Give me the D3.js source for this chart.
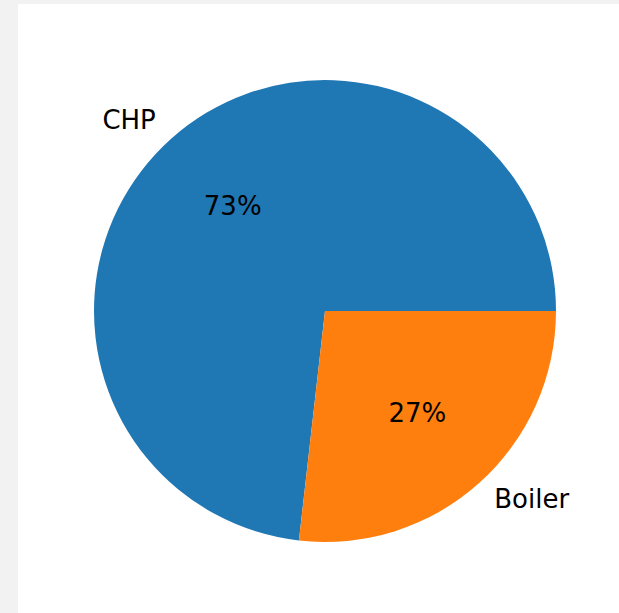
<!DOCTYPE html>
<html>
<head>
<meta charset="utf-8">
<script src="https://cdn.jsdelivr.net/npm/d3@7"></script>
<style>
  html, body { margin: 0; padding: 0; background: #f2f2f2; }
  svg { display: block; }
  text { font-family: "DejaVu Sans", sans-serif; fill: #000; }
</style>
</head>
<body>
<script>
// Data
const categories = ["CHP", "Boiler"];
const shares = [73.2, 26.8];
const colors = ["#1f77b4", "#ff7f0e"];

const W = 619, H = 613;
const cx = 325, cy = 311, R = 231;
const fs = 26;

const svg = d3.select("body").append("svg")
  .attr("width", W).attr("height", H);

// figure area
svg.append("rect").attr("x", 18).attr("y", 4)
  .attr("width", W - 18).attr("height", H - 4).attr("fill", "#fff");

const g = svg.append("g").attr("transform", `translate(${cx},${cy})`);

// matplotlib style: start at 3 o'clock, go counter-clockwise
const pie = d3.pie().sort(null)
  .startAngle(Math.PI / 2)
  .endAngle(Math.PI / 2 - 2 * Math.PI);
const arcs = pie(shares);
const arc = d3.arc().innerRadius(0).outerRadius(R);

g.selectAll("path.slice").data(arcs).join("path")
  .attr("class", "slice")
  .attr("d", arc)
  .attr("fill", (d, i) => colors[i]);

const total = d3.sum(shares);
const pos = (d, k) => {
  const a = (d.startAngle + d.endAngle) / 2;
  return [k * R * Math.sin(a), -k * R * Math.cos(a)];
};

// category labels at 1.1 R
g.selectAll("text.label").data(arcs).join("text")
  .attr("class", "label")
  .attr("x", d => pos(d, 1.1)[0])
  .attr("y", d => pos(d, 1.1)[1] + 0.365 * fs - 2)
  .attr("text-anchor", d => pos(d, 1.1)[0] < 0 ? "end" : "start")
  .style("font-size", fs + "px")
  .text((d, i) => categories[i]);

// percentage labels at 0.6 R
g.selectAll("text.pct").data(arcs).join("text")
  .attr("class", "pct")
  .attr("x", d => pos(d, 0.6)[0])
  .attr("y", d => pos(d, 0.6)[1] + 0.365 * fs - 2)
  .attr("text-anchor", "middle")
  .style("font-size", fs + "px")
  .text(d => d3.format(".0f")(d.value / total * 100) + "%");
</script>
</body>
</html>
